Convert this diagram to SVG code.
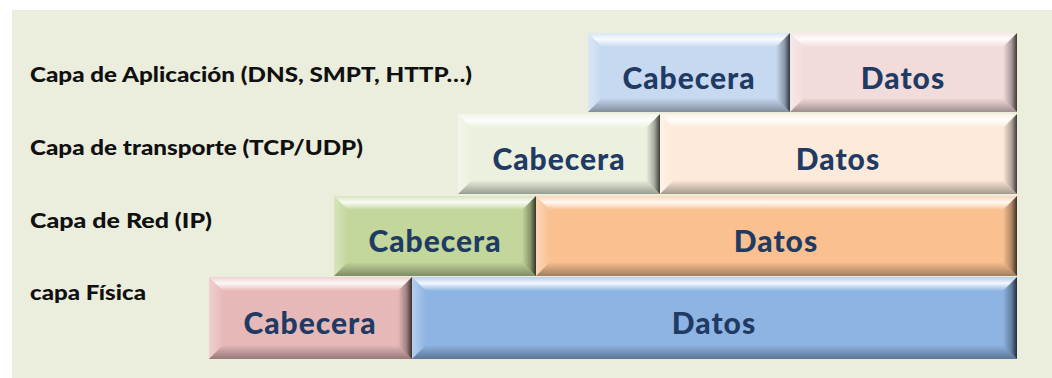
<svg xmlns="http://www.w3.org/2000/svg" width="1052" height="378" viewBox="0 0 1052 378">
  <defs>
    <!-- bevel shading, reused by every block -->
    <linearGradient id="bevTop" x1="0" y1="0" x2="0" y2="1">
      <stop offset="0" stop-color="#fff" stop-opacity="0.35"/>
      <stop offset="0.45" stop-color="#fff" stop-opacity="0.9"/>
      <stop offset="1" stop-color="#fff" stop-opacity="0"/>
    </linearGradient>
    <linearGradient id="bevLeft" x1="0" y1="0" x2="1" y2="0">
      <stop offset="0" stop-color="#fff" stop-opacity="0.35"/>
      <stop offset="1" stop-color="#fff" stop-opacity="0"/>
    </linearGradient>
    <linearGradient id="bevRight" x1="0" y1="0" x2="1" y2="0">
      <stop offset="0" stop-color="#000" stop-opacity="0"/>
      <stop offset="0.6" stop-color="#000" stop-opacity="0.3"/>
      <stop offset="1" stop-color="#000" stop-opacity="0.75"/>
    </linearGradient>
    <linearGradient id="bevBottom" x1="0" y1="0" x2="0" y2="1">
      <stop offset="0" stop-color="#000" stop-opacity="0"/>
      <stop offset="1" stop-color="#000" stop-opacity="0.35"/>
    </linearGradient>
  </defs>
  <style>
    .lbl { font-family: "Lato", "Liberation Sans", sans-serif; font-weight: 900; font-size: 20px; fill: #101010; }
    .txt { font-family: "Lato", "Liberation Sans", sans-serif; font-weight: 900; font-size: 30px; letter-spacing: 1px; fill: #1f3b63; text-anchor: middle; }
    .top { fill: url(#bevTop); }
    .left { fill: url(#bevLeft); }
    .right { fill: url(#bevRight); }
    .bottom { fill: url(#bevBottom); }
  </style>

  <!-- panel -->
  <rect x="0" y="0" width="1052" height="378" fill="#ffffff"/>
  <rect x="12" y="10" width="1040" height="368" fill="#ebeedd"/>

  <!-- layer names -->
  <g id="labels">
    <text class="lbl" x="30" y="82" textLength="442" lengthAdjust="spacingAndGlyphs">Capa de Aplicación (DNS, SMPT, HTTP…)</text>
    <text class="lbl" x="30" y="155" textLength="333" lengthAdjust="spacingAndGlyphs">Capa de transporte (TCP/UDP)</text>
    <text class="lbl" x="30" y="228" textLength="182" lengthAdjust="spacingAndGlyphs">Capa de Red (IP)</text>
    <text class="lbl" x="30" y="300" textLength="116" lengthAdjust="spacingAndGlyphs">capa Física</text>
  </g>

  <!-- application layer -->
  <g id="app-cabecera">
    <rect x="588" y="33" width="202" height="79" fill="#c6d9f1"/>
    <polygon class="top" points="588,33 790,33 776,47 602,47"/>
    <polygon class="left" points="588,33 602,47 602,98 588,112"/>
    <polygon class="right" points="776,47 790,33 790,112 776,98"/>
    <polygon class="bottom" points="588,112 602,98 776,98 790,112"/>
    <text class="txt" x="689" y="89">Cabecera</text>
  </g>
  <g id="app-datos">
    <rect x="790" y="33" width="227" height="79" fill="#f2dcdb"/>
    <polygon class="top" points="790,33 1017,33 1003,47 804,47"/>
    <polygon class="left" points="790,33 804,47 804,98 790,112"/>
    <polygon class="right" points="1003,47 1017,33 1017,112 1003,98"/>
    <polygon class="bottom" points="790,112 804,98 1003,98 1017,112"/>
    <text class="txt" x="903" y="89">Datos</text>
  </g>

  <!-- transport layer -->
  <g id="tra-cabecera">
    <rect x="458" y="114" width="202" height="80" fill="#ebf1de"/>
    <polygon class="top" points="458,114 660,114 646,128 472,128"/>
    <polygon class="left" points="458,114 472,128 472,180 458,194"/>
    <polygon class="right" points="646,128 660,114 660,194 646,180"/>
    <polygon class="bottom" points="458,194 472,180 646,180 660,194"/>
    <text class="txt" x="559" y="170">Cabecera</text>
  </g>
  <g id="tra-datos">
    <rect x="660" y="114" width="357" height="80" fill="#fdeada"/>
    <polygon class="top" points="660,114 1017,114 1003,128 674,128"/>
    <polygon class="left" points="660,114 674,128 674,180 660,194"/>
    <polygon class="right" points="1003,128 1017,114 1017,194 1003,180"/>
    <polygon class="bottom" points="660,194 674,180 1003,180 1017,194"/>
    <text class="txt" x="838" y="170">Datos</text>
  </g>

  <!-- network layer -->
  <g id="red-cabecera">
    <rect x="334" y="196" width="202" height="80" fill="#c3d69b"/>
    <polygon class="top" points="334,196 536,196 522,210 348,210"/>
    <polygon class="left" points="334,196 348,210 348,262 334,276"/>
    <polygon class="right" points="522,210 536,196 536,276 522,262"/>
    <polygon class="bottom" points="334,276 348,262 522,262 536,276"/>
    <text class="txt" x="435" y="252">Cabecera</text>
  </g>
  <g id="red-datos">
    <rect x="536" y="196" width="481" height="80" fill="#fac090"/>
    <polygon class="top" points="536,196 1017,196 1003,210 550,210"/>
    <polygon class="left" points="536,196 550,210 550,262 536,276"/>
    <polygon class="right" points="1003,210 1017,196 1017,276 1003,262"/>
    <polygon class="bottom" points="536,276 550,262 1003,262 1017,276"/>
    <text class="txt" x="776" y="252">Datos</text>
  </g>

  <!-- physical layer -->
  <g id="fis-cabecera">
    <rect x="209" y="277" width="203" height="82" fill="#e6b9b8"/>
    <polygon class="top" points="209,277 412,277 398,291 223,291"/>
    <polygon class="left" points="209,277 223,291 223,345 209,359"/>
    <polygon class="right" points="398,291 412,277 412,359 398,345"/>
    <polygon class="bottom" points="209,359 223,345 398,345 412,359"/>
    <text class="txt" x="310" y="334">Cabecera</text>
  </g>
  <g id="fis-datos">
    <rect x="412" y="277" width="605" height="82" fill="#8eb4e3"/>
    <polygon class="top" points="412,277 1017,277 1003,291 426,291"/>
    <polygon class="left" points="412,277 426,291 426,345 412,359"/>
    <polygon class="right" points="1003,291 1017,277 1017,359 1003,345"/>
    <polygon class="bottom" points="412,359 426,345 1003,345 1017,359"/>
    <text class="txt" x="714" y="334">Datos</text>
  </g>
</svg>
